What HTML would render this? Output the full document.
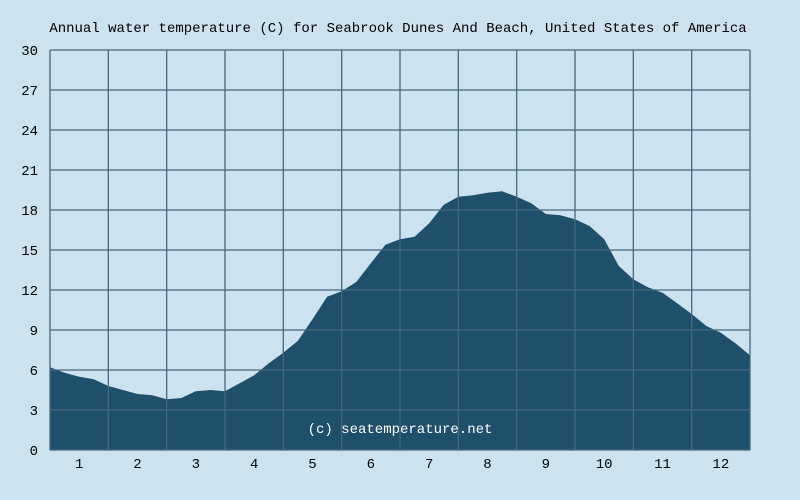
<!DOCTYPE html>
<html><head><meta charset="utf-8"><style>
html,body{margin:0;padding:0;background:#cce3ef;}
svg{display:block;font-family:"Liberation Mono",monospace;}
</style></head><body>
<svg id="chart" width="800" height="500" viewBox="0 0 800 500" xmlns="http://www.w3.org/2000/svg">
<rect width="800" height="500" fill="#cce3ef"/>
<text x="398" y="32" text-anchor="middle" font-size="14" fill="#000">Annual water temperature (C) for Seabrook Dunes And Beach, United States of America</text>
<g id="area"></g>
<g id="grid"></g>
<g id="yticks"></g>
<g id="xticks"></g>
<text x="400" y="433" text-anchor="middle" font-size="14" fill="#ffffff">(c) seatemperature.net</text>
</svg>
<script>
const temps = [6.2,5.8,5.5,5.3,4.8,4.5,4.2,4.1,3.8,3.9,4.4,4.5,4.4,5.0,5.6,6.5,7.3,8.2,9.8,11.5,11.9,12.6,14.0,15.4,15.8,16.0,17.0,18.4,19.0,19.1,19.3,19.4,19.0,18.5,17.7,17.6,17.3,16.8,15.8,13.8,12.8,12.2,11.8,11.0,10.2,9.3,8.8,8.0,7.1];
const yTickLabels = [0,3,6,9,12,15,18,21,24,27,30];
const monthLabels = ["1","2","3","4","5","6","7","8","9","10","11","12"];
const L=50,R=750,T=50,B=450,yMax=30;
const NS="http://www.w3.org/2000/svg";
function xIdx(i){return L+(R-L)*i/(temps.length-1);}
function xMonth(m){return L+(R-L)*m/monthLabels.length;}
function y(v){return B-(B-T)*v/yMax;}
function mk(tag,attrs,parent){const e=document.createElementNS(NS,tag);for(const k in attrs)e.setAttribute(k,attrs[k]);parent.appendChild(e);return e;}
const area=document.getElementById('area');
let d="M"+L+","+B;
temps.forEach((t,i)=>{d+=" L"+xIdx(i).toFixed(1)+","+y(t).toFixed(1);});
d+=" L"+R+","+B+" Z";
const p=mk('path',{d:d,fill:'#1e4f6b'},area);


const grid=document.getElementById('grid');
yTickLabels.forEach(v=>{
  const l=mk('line',{x1:L,x2:R,y1:y(v),y2:y(v),stroke:'#47687f','stroke-width':1.3},grid);
  
  
});
for(let m=0;m<=monthLabels.length;m++){
  const l=mk('line',{x1:xMonth(m),x2:xMonth(m),y1:T,y2:B,stroke:'#47687f','stroke-width':1.3},grid);
  
  
}
const yt=document.getElementById('yticks');
yTickLabels.forEach(v=>{
  const t=mk('text',{x:38,y:y(v)+5,'text-anchor':'end','font-size':14,fill:'#000'},yt);
  t.textContent=v;
  
  
});
const xt=document.getElementById('xticks');
monthLabels.forEach((lab,i)=>{
  const t=mk('text',{x:(xMonth(i)+xMonth(i+1))/2,y:468,'text-anchor':'middle','font-size':14,fill:'#000'},xt);
  t.textContent=lab;
  
  
});
</script>
</body></html>
